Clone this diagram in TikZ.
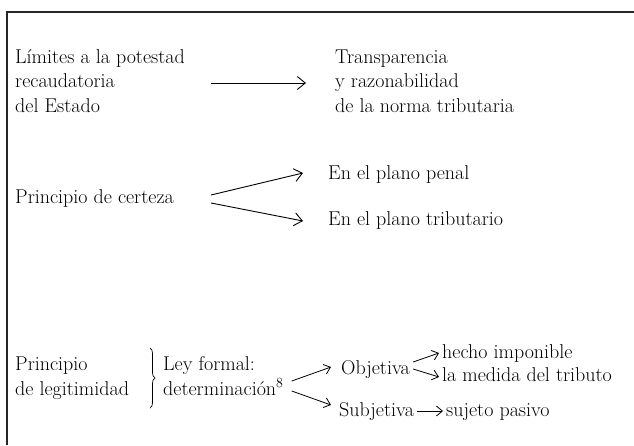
\documentclass[tikz,border=0pt]{standalone}
\usetikzlibrary{arrows.meta,calc,decorations.pathreplacing}
\begin{document}
\begin{tikzpicture}[x=1pt,y=-1pt,
  txt/.style={anchor=base west,inner sep=0pt,align=left,font=\fontsize{20}{24.5}\selectfont},
  arr/.style={-{Straight Barb[length=8pt,width=13pt]},line width=0.9pt},
  sarr/.style={-{Straight Barb[length=6pt,width=10pt]},line width=0.8pt}]
\useasboundingbox (0,0) rectangle (634,445);
\draw[line width=2.5pt,black!85] (634,12)--(7,12)--(7,445);

% primer bloque
\node[txt] (lim) at (15,112) {Límites a la potestad\\recaudatoria\\del Estado};
\node[txt] (tra) at (335,112) {Transparencia\\y razonabilidad\\de la norma tributaria};
\draw[arr] ($(lim.base east)+(26,-29)$)--($(tra.base west)+(-29,-29)$);

% certeza
\node[txt] (cer) at (15,203) {Principio de certeza};
\node[txt] (pen) at (328,179) {En el plano penal};
\node[txt] (tri) at (328,225) {En el plano tributario};
\draw[arr] ($(cer.base east)+(37,-8)$)--($(pen.base west)+(-25,-6)$);
\draw[arr] ($(cer.base east)+(37,0)$)--($(tri.base west)+(-25,-4)$);

% legitimidad
\node[txt] (leg) at (15,395) {Principio\\de legitimidad};
\draw[decorate,decoration={brace,amplitude=5pt},line width=0.7pt] (150,348)--(150,408);
\node[txt] (ley) at (163,395) {Ley formal:\\determinación\textsuperscript{8}};
\node[txt] (obj) at (341,374) {Objetiva};
\node[txt] (sub) at (339,416) {Subjetiva};
\node[txt] (hec) at (442,358) {hecho imponible};
\node[txt] (med) at (442,381) {la medida del tributo};
\node[txt] (suj) at (446,416) {sujeto pasivo};
\draw[sarr] ($(ley.base east)+(8,-14)$)--($(obj.base west)+(-10,-7)$);
\draw[sarr] ($(ley.base east)+(8,-4)$)--($(sub.base west)+(-8,-11)$);
\draw[sarr] ($(obj.base east)+(3,-12)$)--($(hec.base west)+(-3,-5)$);
\draw[sarr] ($(obj.base east)+(3,-5)$)--($(med.base west)+(-3,-4)$);
\draw[sarr] ($(sub.base east)+(3,-5)$)--($(suj.base west)+(-3,-5)$);
\end{tikzpicture}
\end{document}
